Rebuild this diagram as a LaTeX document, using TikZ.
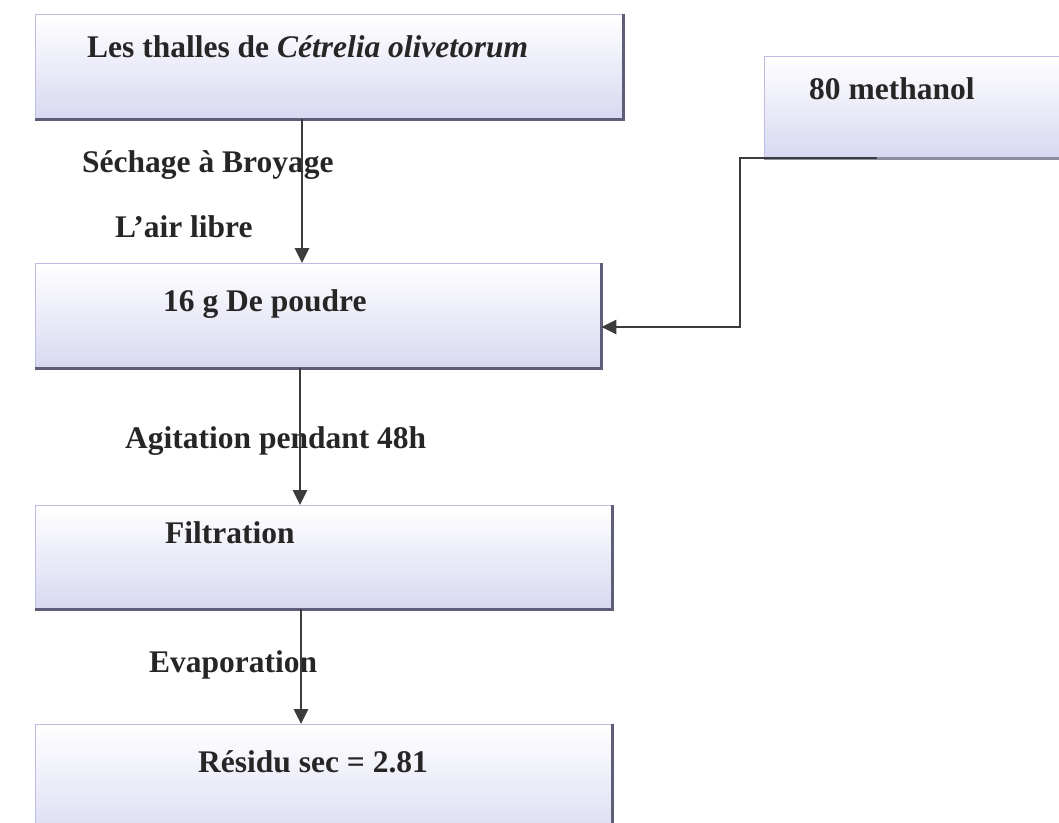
\documentclass[tikz,border=0pt]{standalone}
\usepackage{fontspec}
\setmainfont{Liberation Serif}
\usetikzlibrary{arrows.meta}
\definecolor{lav}{HTML}{D8D8F2}
\definecolor{edgec}{HTML}{BDBDE3}
\definecolor{shadowc}{HTML}{5E5E78}
\definecolor{ink}{HTML}{262626}
\tikzset{
  box/.style={draw=edgec, line width=1.4pt, top color=white, bottom color=lav, anchor=north west, inner sep=0pt},
  lbl/.style={anchor=base west, inner sep=0pt, text=ink, font=\fontsize{31.5}{36}\selectfont\bfseries},
  flow/.style={draw=ink!90, line width=2.8pt, -{Triangle[length=15pt,width=14pt]}},
  shadeedge/.style={draw=shadowc, line width=3pt}
}
\begin{document}
\begin{tikzpicture}[x=1pt,y=-1pt]
\useasboundingbox (0,0) rectangle (1059,822);
\clip (0,0) rectangle (1059,822);
% boxes
\node[box, minimum width=587pt, minimum height=104pt] (b1) at (35,14) {};
\node[box, minimum width=330pt, minimum height=101pt] (b2) at (764,56) {};
\node[box, minimum width=565pt, minimum height=104pt] (b3) at (35,263) {};
\node[box, minimum width=576pt, minimum height=103pt] (b4) at (35,505) {};
\node[box, minimum width=576pt, minimum height=125pt] (b5) at (35,724) {};
% shadow edges
\draw[shadeedge] (b1.south west) -- (b1.south east) -- (b1.north east);
\draw[shadeedge, draw=shadowc!70] (b2.south west) -- (b2.south east);
\draw[shadeedge] (b3.south west) -- (b3.south east) -- (b3.north east);
\draw[shadeedge] (b4.south west) -- (b4.south east) -- (b4.north east);
\draw[shadeedge] (b5.south east) -- (b5.north east);
% texts
\node[lbl] (t1) at (87,57) {Les thalles de \textit{Cétrelia olivetorum}};
\node[lbl] (t2) at (809,99) {80 methanol};
\node[lbl] (t3) at (163,311) {16 g De poudre};
\node[lbl] (t4) at (165,543) {Filtration};
\node[lbl] (t5) at (198,772) {Résidu sec = 2.81};
\node[lbl] (l1) at (82,172) {Séchage à Broyage};
\node[lbl] (l2) at (115,237) {L’air libre};
\node[lbl] (l3) at (125,448) {Agitation pendant 48h};
\node[lbl] (l4) at (149,672) {Evaporation};
% connectors
\coordinate (a1) at (302,0);
\coordinate (a2) at (300,0);
\coordinate (a3) at (301,0);
\draw[flow] (b1.south -| a1) -- (b3.north -| a1);
\draw[flow] (b3.south -| a2) -- (b4.north -| a2);
\draw[flow] (b4.south -| a3) -- (b5.north -| a3);
\coordinate (c1) at (877,158);
\coordinate (c2) at (740,158);
\coordinate (c3) at (740,327);
\draw[flow] (c1) -- (c2) -- (c3) -- (c3 -| b3.east);
\end{tikzpicture}
\end{document}
